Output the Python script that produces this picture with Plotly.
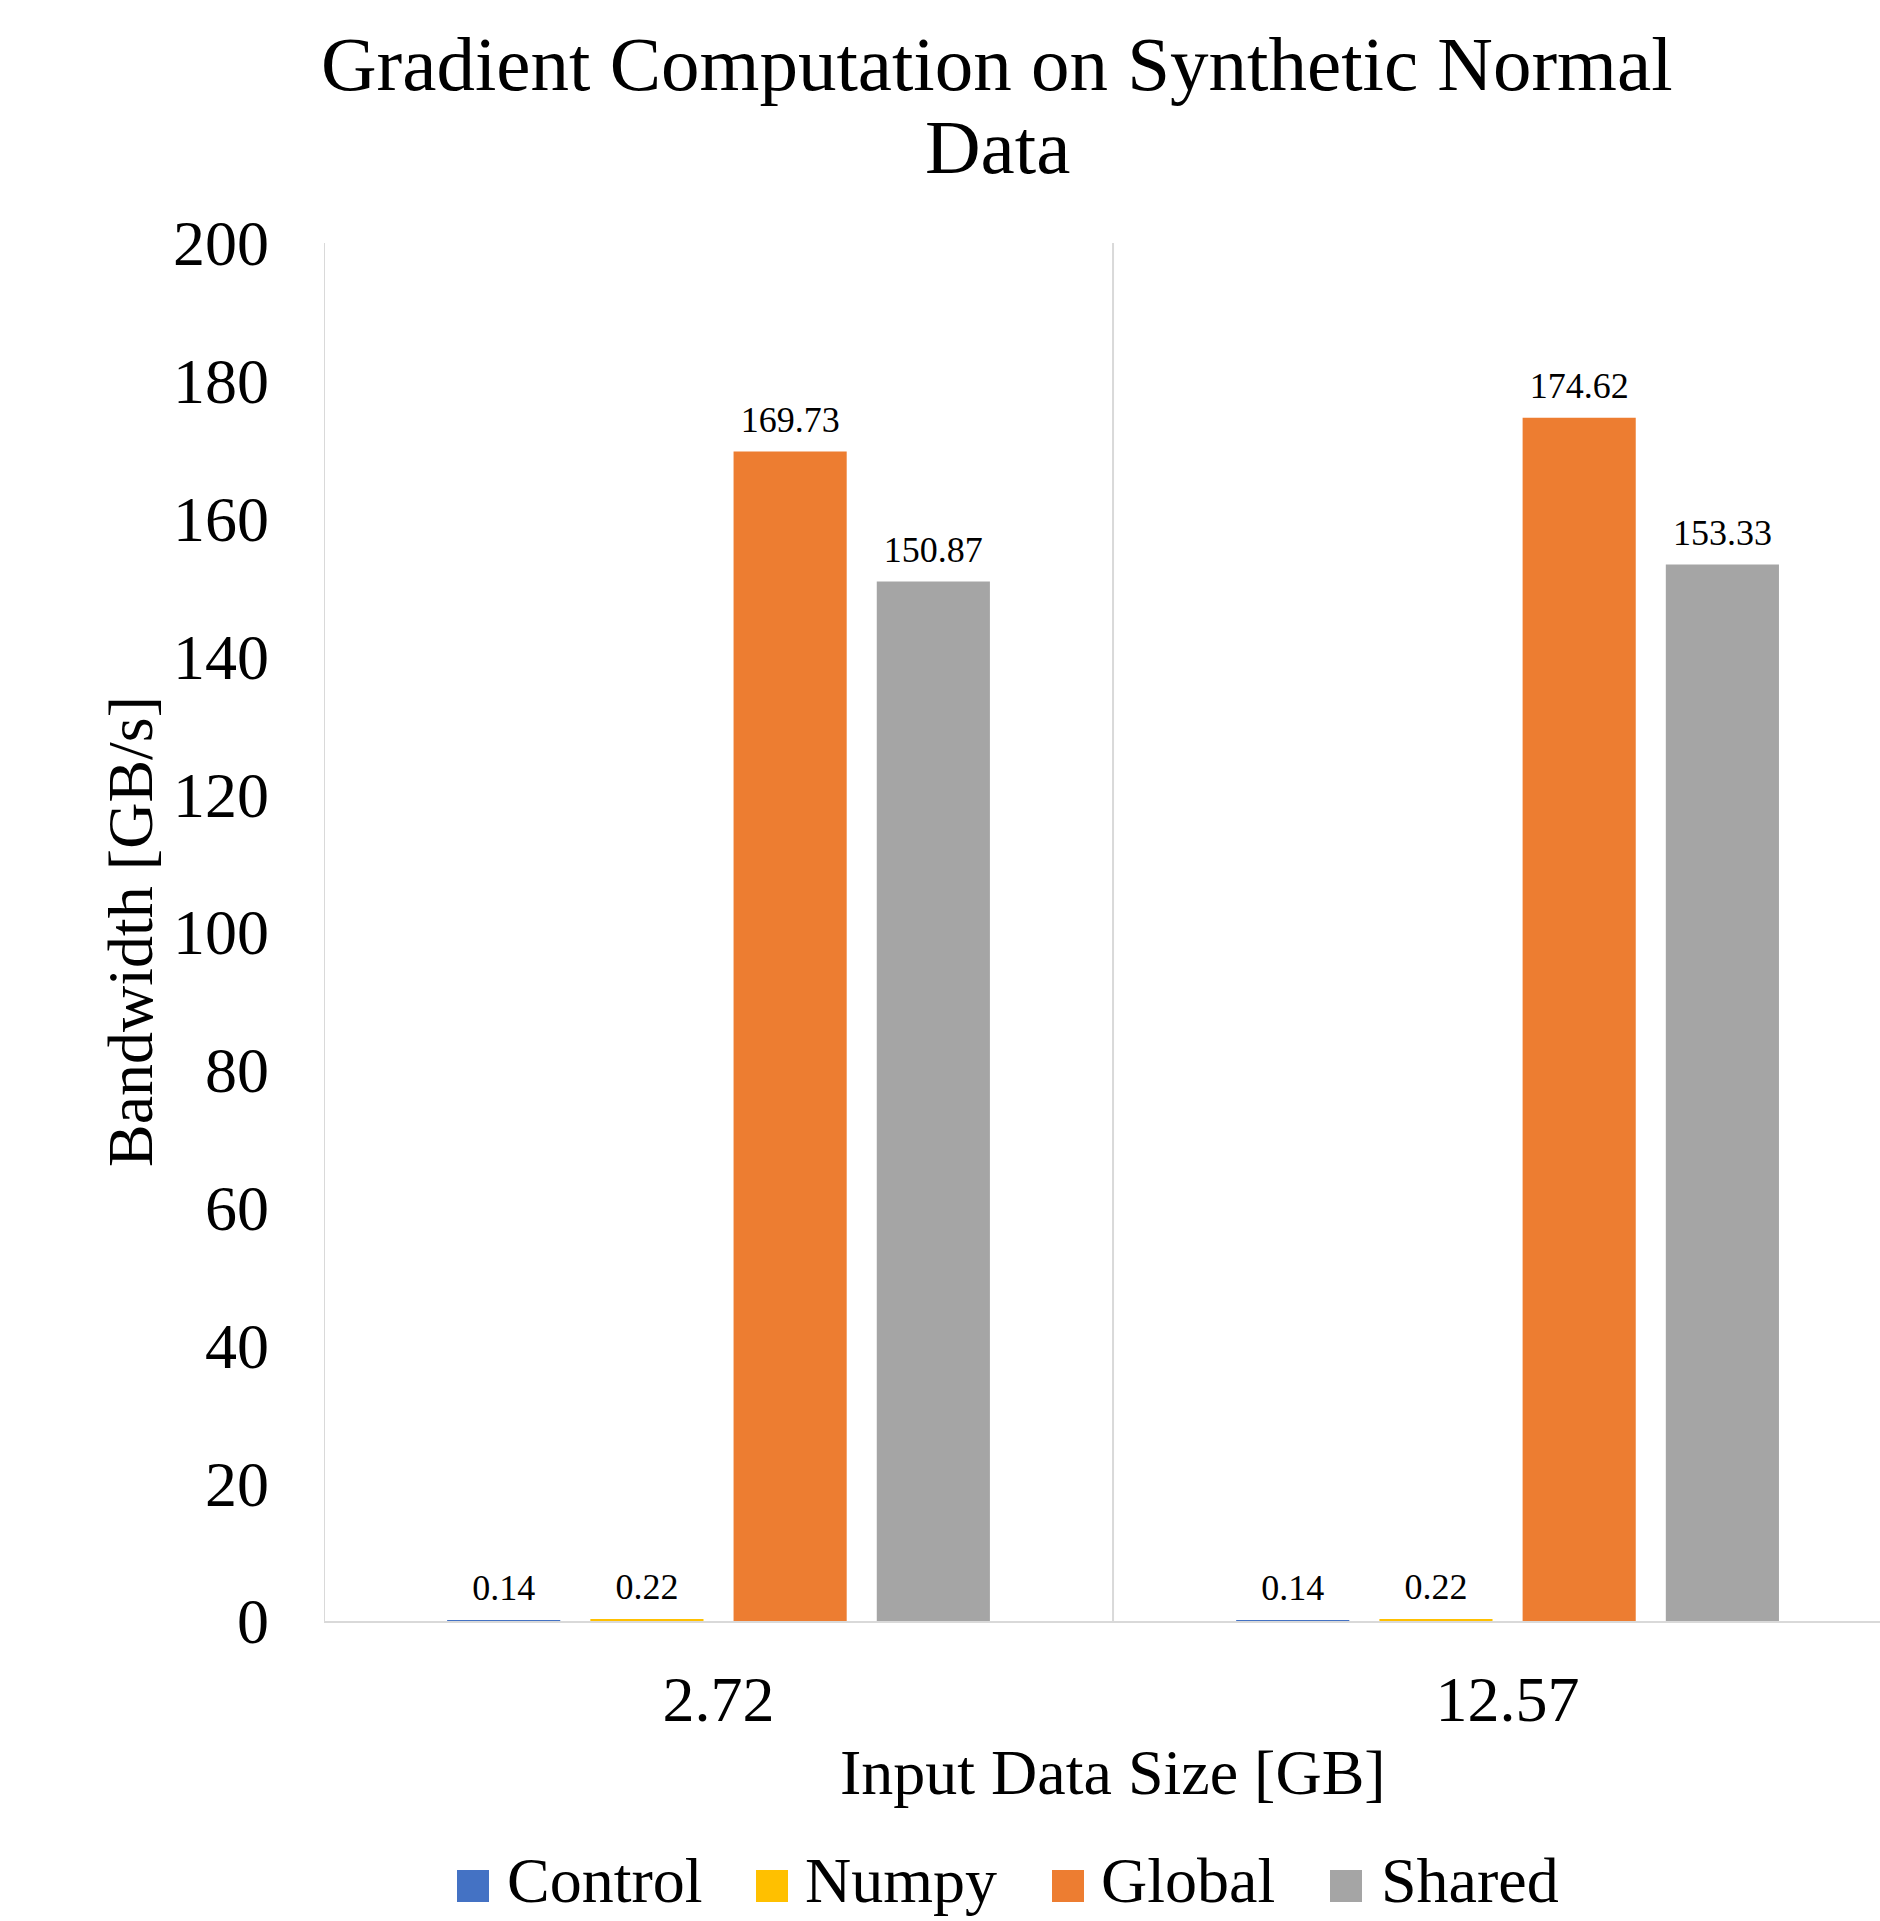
import plotly.graph_objects as go

categories = ["2.72", "12.57"]
series_names = ["Control", "Numpy", "Global", "Shared"]
control = [0.14, 0.14]
numpy_vals = [0.22, 0.22]
global_vals = [169.73, 174.62]
shared = [150.87, 153.33]
colors = ["#4472C4", "#FFC000", "#ED7D31", "#A5A5A5"]
y_ticks = [0, 20, 40, 60, 80, 100, 120, 140, 160, 180, 200]

FONT = "Times New Roman, Liberation Serif, serif"
W, H = 1880, 1921
ML, MR, MT, MB = 324, 0, 243, 300
PW, PH = W - ML - MR, H - MT - MB


def px_x(px):
    return (px - ML) / PW


def px_y(py):
    return (H - MB - py) / PH


fig = go.Figure()
x_idx = list(range(len(categories)))
all_vals = [control, numpy_vals, global_vals, shared]
for name, vals, col in zip(series_names, all_vals, colors):
    fig.add_trace(go.Bar(
        name=name, x=x_idx, y=vals, offsetgroup=name,
        marker=dict(color=col, line=dict(width=0)),
        hoverinfo="x+y+name", showlegend=False,
    ))
# data labels, grouped like the bars
for name, vals in zip(series_names, all_vals):
    fig.add_trace(go.Scatter(
        name=name + " label", x=x_idx, y=vals, offsetgroup=name,
        mode="markers+text",
        marker=dict(size=16, color="rgba(0,0,0,0)"),
        text=[f"{v:.2f}" for v in vals], textposition="top center",
        textfont=dict(family=FONT, size=36, color="black"),
        hoverinfo="skip", showlegend=False, cliponaxis=False,
    ))

annotations = [
    dict(text="Gradient Computation on Synthetic Normal", x=0.4328, y=px_y(64),
         font=dict(family=FONT, size=77, color="black")),
    dict(text="Data", x=0.4328, y=px_y(147),
         font=dict(family=FONT, size=77, color="black")),
    dict(text="Input Data Size [GB]", x=px_x(1113), y=px_y(1772),
         font=dict(family=FONT, size=64, color="black")),
    dict(text="Bandwidth [GB/s]", x=px_x(130), y=0.5, textangle=-90,
         font=dict(family=FONT, size=64, color="black")),
]
for a in annotations:
    a.update(xref="paper", yref="paper", xanchor="center", yanchor="middle",
             showarrow=False)

shapes = []
# custom legend
legend_sq = [457, 756, 1052, 1330]
legend_tx = [505, 803, 1099, 1379]
for name, col, sx, tx in zip(series_names, colors, legend_sq, legend_tx):
    shapes.append(dict(type="rect", xref="paper", yref="paper",
                       x0=px_x(sx), x1=px_x(sx + 32), y0=px_y(1902), y1=px_y(1870),
                       fillcolor=col, line=dict(width=0)))
    annotations.append(dict(text=name, x=px_x(tx), y=px_y(1880), xref="paper", yref="paper",
                            xanchor="left", yanchor="middle", showarrow=False,
                            font=dict(family=FONT, size=64, color="black")))
# category separators (vertical gridlines at category boundaries)
for xb in [-0.5, 0.5]:
    shapes.append(dict(type="line", xref="x", yref="y", x0=xb, x1=xb, y0=0, y1=200,
                       line=dict(color="#D9D9D9", width=2), layer="below"))

fig.update_layout(
    width=W, height=H,
    paper_bgcolor="white", plot_bgcolor="white",
    barmode="group", bargap=0.274, bargroupgap=0.21,
    scattermode="group", scattergap=0.274,
    margin=dict(l=ML, r=MR, t=MT, b=MB),
    font=dict(family=FONT, color="black"),
    showlegend=False,
    annotations=annotations, shapes=shapes,
)
fig.update_xaxes(
    tickmode="array", tickvals=x_idx, ticktext=categories,
    range=[-0.5, 1.472], showgrid=False, zeroline=False,
    showline=True, linecolor="#D9D9D9", linewidth=2,
    ticks="", ticklabelstandoff=21, automargin=False,
    tickfont=dict(family=FONT, size=64, color="black"),
)
fig.update_yaxes(
    range=[0, 200], tickvals=y_ticks, showgrid=False, zeroline=False,
    showline=False, ticks="", ticklabelstandoff=54, automargin=False,
    tickfont=dict(family=FONT, size=64, color="black"),
)

fig.write_html("out.html")
